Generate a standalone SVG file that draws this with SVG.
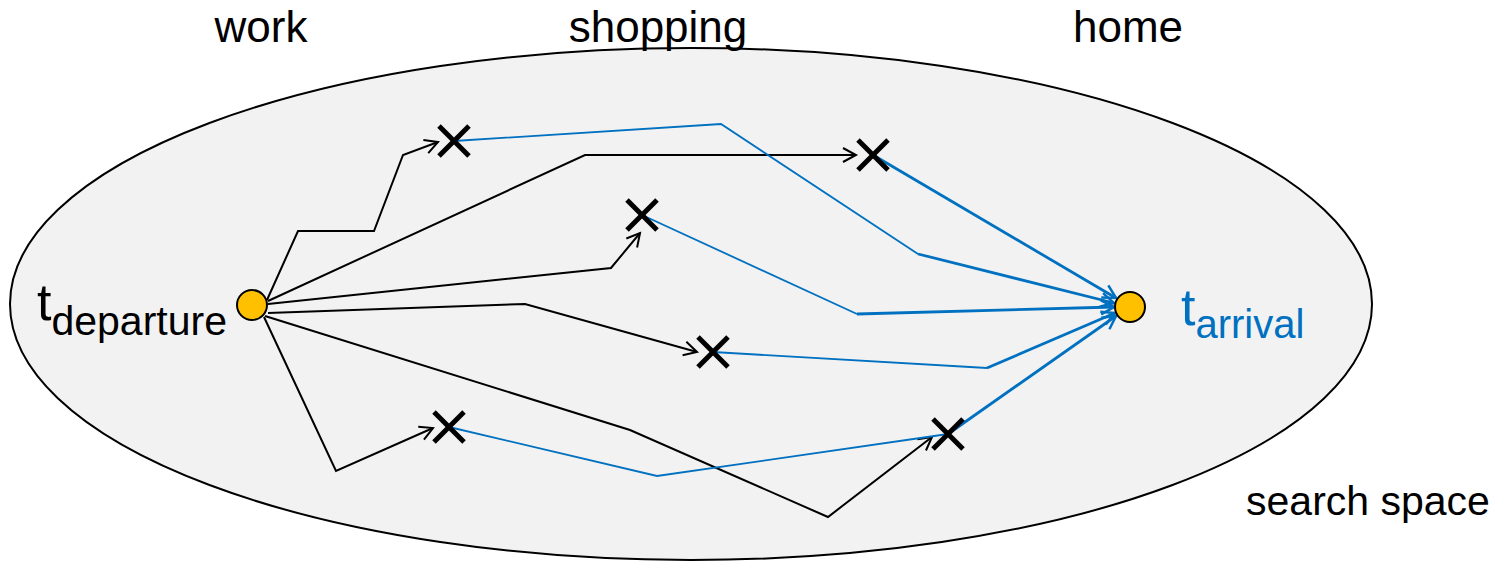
<svg xmlns="http://www.w3.org/2000/svg" width="1502" height="562" viewBox="0 0 1502 562">
  <style>
    .lbl { font-family: "Liberation Sans", Arial, sans-serif; fill: #000; }
    .blk { fill: none; stroke: #000; stroke-width: 2; stroke-linejoin: miter; }
    .blu { fill: none; stroke: #0070c0; stroke-width: 1.8; }
    .bluT { fill: none; stroke: #0070c0; stroke-width: 2.8; }
    .x line { stroke: #000; stroke-width: 5; }
    .pt { fill: #ffc000; stroke: #000; stroke-width: 2; }
  </style>
  <defs>
    <marker id="ab" markerUnits="userSpaceOnUse" markerWidth="20" markerHeight="20" viewBox="-16 -10 20 20" refX="0" refY="0" orient="auto">
      <path d="M-13,-7 L0,0 L-13,7" fill="none" stroke="#000" stroke-width="2"/>
    </marker>
    <marker id="au" markerUnits="userSpaceOnUse" markerWidth="20" markerHeight="20" viewBox="-16 -10 20 20" refX="0" refY="0" orient="auto">
      <path d="M-13,-7 L0,0 L-13,7" fill="none" stroke="#0070c0" stroke-width="2.5"/>
    </marker>
  </defs>

  <g id="search-space">
    <ellipse cx="691" cy="304" rx="681" ry="256" fill="#f2f2f2" stroke="#000" stroke-width="2"/>
    <text class="lbl" x="1368" y="515" font-size="41" text-anchor="middle">search space</text>
  </g>

  <g id="labels">
    <text class="lbl" x="261" y="42" font-size="44" text-anchor="middle">work</text>
    <text class="lbl" x="658" y="42" font-size="44" text-anchor="middle">shopping</text>
    <text class="lbl" x="1128" y="42" font-size="44" text-anchor="middle">home</text>
  </g>

  <g id="connectors">
    <polyline class="blk" points="267,300 298,231 374,231 403,155 438,142" marker-end="url(#ab)"/>
    <polyline class="blk" points="268,301 585,155 856,155" marker-end="url(#ab)"/>
    <polyline class="blk" points="268,304 611,268 640,233" marker-end="url(#ab)"/>
    <polyline class="blk" points="268,313 525,304 697,352" marker-end="url(#ab)"/>
    <polyline class="blk" points="265,316 630,430 828,517 932,437" marker-end="url(#ab)"/>
    <polyline class="blk" points="264,317 336,471 433,428" marker-end="url(#ab)"/>

    <polyline class="blu" points="454,141 721,124 918,254"/>
    <line class="bluT" x1="918" y1="254" x2="1114" y2="303" marker-end="url(#au)"/>
    <line class="bluT" x1="873" y1="155" x2="1116" y2="298" marker-end="url(#au)"/>
    <polyline class="blu" points="642,215 857,314"/>
    <line class="bluT" x1="857" y1="314" x2="1114" y2="307" marker-end="url(#au)"/>
    <polyline class="blu" points="713,352 987,368"/>
    <line class="bluT" x1="987" y1="368" x2="1115" y2="313" marker-end="url(#au)"/>
    <polyline class="blu" points="449,427 657,476 948,434"/>
    <line class="bluT" x1="948" y1="434" x2="1116" y2="316" marker-end="url(#au)"/>
  </g>

  <g id="departure">
    <circle class="pt" cx="252" cy="305" r="15"/>
    <text class="lbl" x="37" y="320" font-size="52">t<tspan font-size="41" y="335">departure</tspan></text>
  </g>
  <g id="arrival">
    <circle class="pt" cx="1130" cy="307" r="15"/>
    <text class="lbl" x="1181" y="325" font-size="52" style="fill:#0070c0">t<tspan font-size="40" y="338">arrival</tspan></text>
  </g>

  <g id="x-work-1" class="x"><line x1="439" y1="126" x2="469" y2="156"/><line x1="469" y1="126" x2="439" y2="156"/></g>
  <g id="x-home-1" class="x"><line x1="858" y1="140" x2="888" y2="170"/><line x1="888" y1="140" x2="858" y2="170"/></g>
  <g id="x-shop-1" class="x"><line x1="627" y1="200" x2="657" y2="230"/><line x1="657" y1="200" x2="627" y2="230"/></g>
  <g id="x-shop-2" class="x"><line x1="698" y1="337" x2="728" y2="367"/><line x1="728" y1="337" x2="698" y2="367"/></g>
  <g id="x-work-2" class="x"><line x1="434" y1="412" x2="464" y2="442"/><line x1="464" y1="412" x2="434" y2="442"/></g>
  <g id="x-home-2" class="x"><line x1="933" y1="419" x2="963" y2="449"/><line x1="963" y1="419" x2="933" y2="449"/></g>
</svg>
